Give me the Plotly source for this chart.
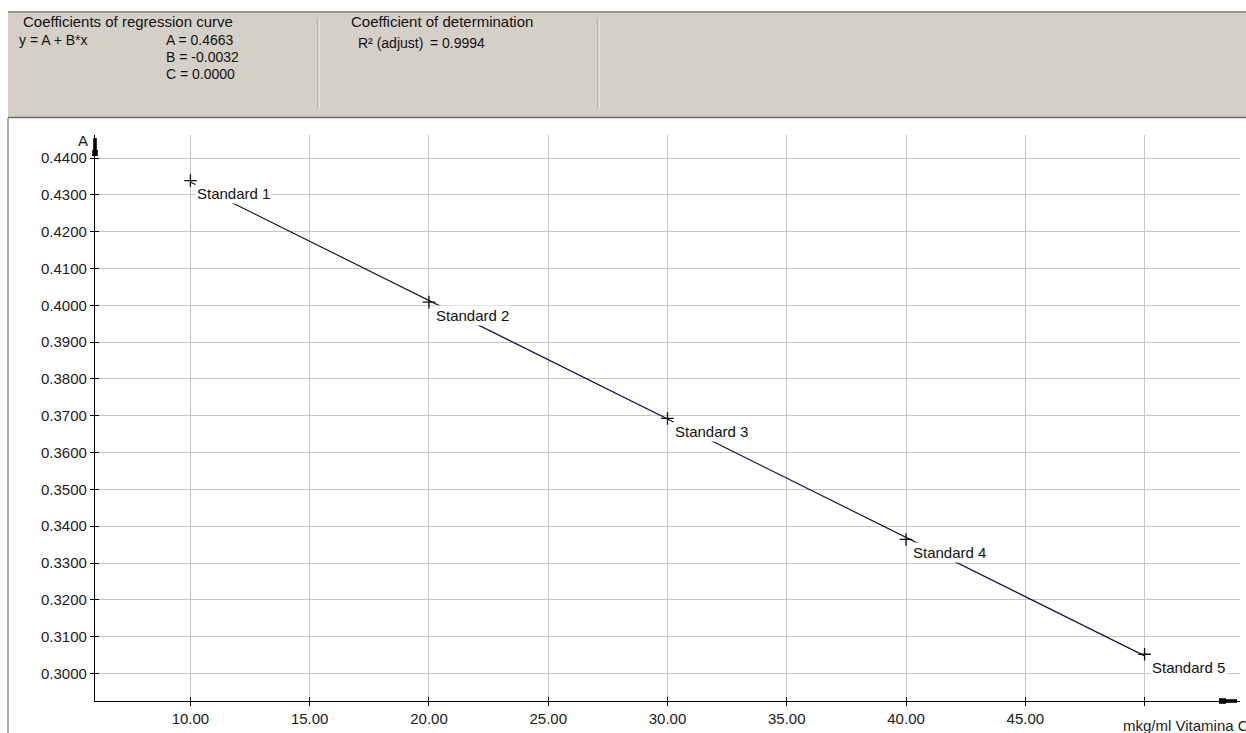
import plotly.graph_objects as go
import numpy as np

# Calibration standards (concentration, absorbance)
standards = ["Standard 1", "Standard 2", "Standard 3", "Standard 4", "Standard 5"]
concentration = [10.0, 20.0, 30.0, 40.0, 50.0]
absorbance = [0.4339, 0.4009, 0.3693, 0.3364, 0.3052]

x_ticks = [10, 15, 20, 25, 30, 35, 40, 45, 50]
x_ticktext = ["10.00", "15.00", "20.00", "25.00", "30.00", "35.00", "40.00", "45.00", ""]
y_ticks = [0.30, 0.31, 0.32, 0.33, 0.34, 0.35, 0.36, 0.37, 0.38, 0.39, 0.40, 0.41, 0.42, 0.43, 0.44]

coef_text = ["A = 0.4663", "B = -0.0032", "C = 0.0000"]
r2_text = "= 0.9994"

X_RANGE = [6.0, 54.0]
Y_RANGE = [0.2925, 0.4463]

W, H = 1246, 733
ML, MR, MT, MB = 95, 6, 135, 32
PW, PH = W - ML - MR, H - MT - MB


def px(x):
    return (x - ML) / PW


def py(y):
    return (H - MB - y) / PH


FONT = "Arial, Liberation Sans, sans-serif"
GRAY = "#d4d0c8"

# regression line through the standards
slope, intercept = np.polyfit(concentration, absorbance, 1)
fit_x = [concentration[0], concentration[-1]]
fit_y = [intercept + slope * v for v in fit_x]

fig = go.Figure()
fig.add_trace(go.Scatter(x=fit_x, y=fit_y, mode="lines",
                         line=dict(color="#14143c", width=1.2),
                         hoverinfo="skip", showlegend=False))
fig.add_trace(go.Scatter(x=concentration, y=absorbance, mode="markers",
                         marker=dict(symbol="cross-thin", size=9,
                                     line=dict(color="#111111", width=1.3)),
                         text=standards, showlegend=False))
# companion axes carrying the inward half of the crossing ticks
fig.add_trace(go.Scatter(x=[None], y=[None], xaxis="x2", yaxis="y2",
                         showlegend=False, hoverinfo="skip"))

axis_common = dict(showline=True, linecolor="#000000", linewidth=1.3,
                   zeroline=False, ticks="outside", ticklen=4,
                   tickcolor="#000000", tickwidth=1,
                   tickfont=dict(family=FONT, size=15, color="#1a1a1a"))

fig.update_layout(
    width=W, height=H,
    margin=dict(l=ML, r=MR, t=MT, b=MB),
    paper_bgcolor="white", plot_bgcolor="white",
    xaxis=dict(range=X_RANGE, tickmode="array", tickvals=x_ticks,
               ticktext=x_ticktext, showgrid=True, gridcolor="#c6c6c6",
               gridwidth=1, **axis_common),
    yaxis=dict(range=Y_RANGE, tickmode="array", tickvals=y_ticks,
               tickformat=".4f", showgrid=True, gridcolor="#c6c6c6",
               gridwidth=1, **axis_common),
    xaxis2=dict(overlaying="x", matches="x", anchor="y2", range=X_RANGE,
                tickmode="array", tickvals=x_ticks, ticks="inside", ticklen=4,
                tickcolor="#000000", showticklabels=False, showgrid=False,
                zeroline=False, showline=False),
    yaxis2=dict(overlaying="y", matches="y", anchor="x2", range=Y_RANGE,
                tickmode="array", tickvals=y_ticks, ticks="inside", ticklen=4,
                tickcolor="#000000", showticklabels=False, showgrid=False,
                zeroline=False, showline=False),
)

shapes = []
# header panel
shapes.append(dict(type="rect", xref="paper", yref="paper", layer="below",
                   x0=px(8), x1=px(W), y0=py(117), y1=py(12),
                   fillcolor=GRAY, line=dict(width=0)))
shapes.append(dict(type="line", xref="paper", yref="paper",
                   x0=px(8), x1=px(W), y0=py(12), y1=py(12),
                   line=dict(color="#9a9890", width=2)))
shapes.append(dict(type="line", xref="paper", yref="paper",
                   x0=px(8), x1=px(W), y0=py(117.5), y1=py(117.5),
                   line=dict(color="#6e6c66", width=1.5)))
for xd in (318, 598):
    shapes.append(dict(type="line", xref="paper", yref="paper",
                       x0=px(xd), x1=px(xd), y0=py(18), y1=py(108),
                       line=dict(color="#9a9890", width=1)))
    shapes.append(dict(type="line", xref="paper", yref="paper",
                       x0=px(xd + 1), x1=px(xd + 1), y0=py(18), y1=py(108),
                       line=dict(color="#f4f3ef", width=1)))
# chart frame left edge
shapes.append(dict(type="line", xref="paper", yref="paper",
                   x0=px(8), x1=px(8), y0=py(118), y1=py(H),
                   line=dict(color="#8c8c8c", width=1.5)))
# arrow heads at the axis ends (paper-anchored so they are not clipped)
shapes.append(dict(type="rect", xref="paper", yref="paper", xsizemode="pixel",
                   xanchor=0, x0=-1.8, x1=1.8, y0=py(155), y1=py(138),
                   fillcolor="#000000", line=dict(width=0)))
shapes.append(dict(type="rect", xref="paper", yref="paper", xsizemode="pixel",
                   xanchor=0, x0=-2.8, x1=2.8, y0=py(156), y1=py(150),
                   fillcolor="#000000", line=dict(width=0)))
shapes.append(dict(type="rect", xref="paper", yref="paper", ysizemode="pixel",
                   yanchor=0, y0=-1.8, y1=1.8, x0=px(1219), x1=px(1237),
                   fillcolor="#000000", line=dict(width=0)))
shapes.append(dict(type="rect", xref="paper", yref="paper", ysizemode="pixel",
                   yanchor=0, y0=-2.8, y1=2.8, x0=px(1219), x1=px(1226),
                   fillcolor="#000000", line=dict(width=0)))
fig.update_layout(shapes=shapes)

ann = []
for name, cx, cy in zip(standards, concentration, absorbance):
    ann.append(dict(x=cx, y=cy, xref="x", yref="y", text=name, showarrow=False,
                    xanchor="left", yanchor="middle", xshift=5, yshift=-13,
                    bgcolor="white", borderpad=1,
                    font=dict(family=FONT, size=15, color="#111111")))

# axis titles
ann.append(dict(x=px(90), y=py(141), xref="paper", yref="paper", text="A",
                showarrow=False, xanchor="right", yanchor="middle",
                font=dict(family=FONT, size=15, color="#1a1a1a")))
ann.append(dict(x=px(1121), y=py(725), xref="paper", yref="paper",
                text="mkg/ml Vitamina C", showarrow=False, xanchor="left",
                yanchor="middle", font=dict(family=FONT, size=15, color="#1a1a1a")))


def header(text, x, y, size=15):
    return dict(x=px(x), y=py(y), xref="paper", yref="paper", text=text,
                showarrow=False, xanchor="left", yanchor="middle",
                font=dict(family=FONT, size=size, color="#111111"))


ann.append(header("Coefficients of regression curve", 21, 22))
ann.append(header("y = A + B*x", 17, 40, 14))
for i, t in enumerate(coef_text):
    ann.append(header(t, 164, 40 + 17 * i, 14))
ann.append(header("Coefficient of determination", 349, 22))
ann.append(header("R² (adjust)", 356, 43, 14))
ann.append(header(r2_text, 428, 43, 14))

fig.update_layout(annotations=ann)

fig.write_html("out.html")
